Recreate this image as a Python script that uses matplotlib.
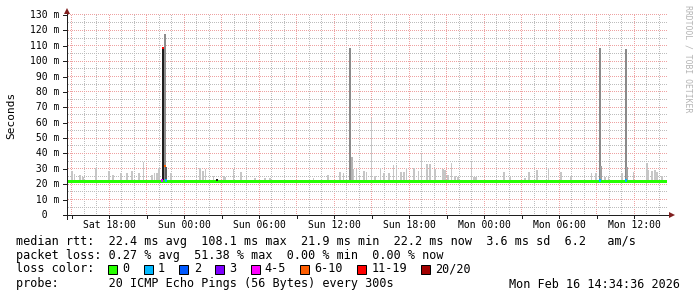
import numpy as np
import matplotlib
matplotlib.use('Agg')
import matplotlib.pyplot as plt
from matplotlib.lines import Line2D
from matplotlib.patches import Rectangle, Polygon
from matplotlib.transforms import blended_transform_factory
from matplotlib.colors import to_rgba

W, H = 697, 297
MONO = 'DejaVu Sans Mono'

# time axis in hours counted from Sat 00:00 (48h window)
view_start = 14.64
view_end = 62.64
data_end = 62.60

tick_hours = [18, 24, 30, 36, 42, 48, 54, 60]
tick_labels = ['Sat 18:00', 'Sun 00:00', 'Sun 06:00', 'Sun 12:00',
               'Sun 18:00', 'Mon 00:00', 'Mon 06:00', 'Mon 12:00']

y_ticks = [0, 10, 20, 30, 40, 50, 60, 70, 80, 90, 100, 110, 120, 130]

# median rtt (ms), mostly flat, with short dips
median_ms = 22.4
dip_hours = [16.24, 16.56, 17.84, 20.96, 24.00, 25.04, 25.84, 26.64, 27.04, 27.36,
             27.60, 28.24, 32.32, 33.12, 33.60, 36.24, 39.76, 42.72, 45.20, 49.28,
             51.12, 51.76, 52.24, 55.60, 57.44, 58.08, 60.00]
dip_ms = [21.6, 21.6, 21.6, 21.4, 21.6, 21.6, 21.4, 21.4, 21.4, 21.4,
          21.6, 21.4, 21.6, 21.6, 21.6, 21.6, 21.6, 21.6, 21.6, 21.6,
          21.6, 21.4, 21.6, 21.6, 21.6, 21.4, 21.6]

# light smoke (spread of the 20 pings), top of each bar in ms
smoke_hours = [14.68, 15.04, 15.24, 15.68, 15.92, 16.96, 18.00, 18.32, 18.94, 19.42,
               19.82, 20.40, 20.74, 21.44, 21.62, 21.82, 22.00, 22.94, 25.28, 25.50,
               25.70, 26.34, 27.14, 27.28, 27.94, 28.56, 29.02, 29.68, 30.48, 30.88,
               34.34, 35.54, 36.48, 36.74, 37.28, 37.54, 37.82, 38.02, 38.40, 38.62,
               39.02, 39.28, 39.72, 40.00, 40.40, 40.74, 41.02, 41.36, 41.62, 41.82,
               42.40, 42.74, 43.02, 43.44, 43.68, 44.08, 44.72, 44.88, 45.12, 45.42,
               45.68, 45.92, 47.02, 47.20, 47.36, 49.60, 50.08, 51.28, 51.62, 52.22,
               53.14, 54.14, 54.96, 56.62, 56.96, 57.68, 57.94, 59.02, 59.94, 61.02,
               61.14, 61.42, 61.68, 61.82, 62.22]
smoke_top = [26.0, 28.6, 26.6, 25.8, 24.5, 30.3, 28.8, 26.0, 27.0, 27.5,
             28.8, 27.0, 34.6, 26.0, 27.0, 27.5, 30.3, 27.5, 30.8, 28.8,
             30.0, 25.5, 25.3, 24.5, 29.7, 28.0, 24.0, 23.8, 24.0, 24.0,
             24.0, 26.0, 28.2, 27.5, 33.0, 29.7, 29.7, 26.0, 28.6, 28.0,
             63.0, 25.5, 30.3, 27.0, 27.5, 32.5, 31.8, 28.0, 28.0, 30.3,
             30.3, 28.8, 40.0, 33.0, 33.0, 30.0, 30.0, 29.0, 26.0, 33.8,
             25.5, 24.5, 34.7, 25.0, 25.0, 28.0, 25.0, 24.0, 28.2, 29.0,
             30.3, 28.0, 25.5, 27.5, 27.0, 24.5, 25.5, 27.5, 28.0, 33.6,
             29.0, 28.5, 29.0, 28.0, 25.5]

# darker smoke around the loss events
spike_hours = [22.46, 22.32, 22.56, 37.30, 37.44, 57.26, 57.38, 59.34, 59.46]
spike_top = [117.7, 108.6, 31.5, 108.4, 38.0, 108.4, 32.0, 107.7, 31.0]
spike_color = ['#8c8c8c', '#1e1e1e', '#5a5a5a', '#8a8a8a', '#b4b4b4',
               '#8a8a8a', '#a0a0a0', '#8a8a8a', '#a0a0a0']

# median points drawn in a loss colour
loss_hours = [22.22, 22.32, 22.50, 22.58, 26.64, 57.30, 59.38]
loss_ms = [22.4, 108.6, 32.0, 22.4, 22.8, 22.4, 22.4]
loss_pt_color = ['#dd00ff', '#ff0000', '#ff5e00', '#00b8ff', '#1e1e1e', '#00b8ff', '#00b8ff']

loss_labels = ['0', '1', '2', '3', '4-5', '6-10', '11-19', '20/20']
loss_colors = ['#26ff00', '#00b8ff', '#0059ff', '#7e00ff', '#ff00ff', '#ff5e00', '#ff0000', '#a10000']

legend_rows = [
    'median rtt:  22.4 ms avg  108.1 ms max  21.9 ms min  22.2 ms now  3.6 ms sd  6.2   am/s',
    'packet loss: 0.27 % avg  51.38 % max  0.00 % min  0.00 % now',
    'loss color:',
    'probe:       20 ICMP Echo Pings (56 Bytes) every 300s',
]
stamp = 'Mon Feb 16 14:34:36 2026'

GRID = '#bdbdbd'
MGRID = '#eea2a2'
ARROW = '#801f1f'
AXIS = '#1f1f1f'


def fx(x):
    return x / W


def fy(y):
    return 1 - y / H


fig = plt.figure(figsize=(W / 100, H / 100), dpi=100)
fig.patch.set_facecolor('white')
ax = fig.add_axes([fx(67), fy(215), 600 / W, 200 / H])
ax.set_xlim(view_start, view_end)
ax.set_ylim(0, 130)
ax.axis('off')
ax.set_zorder(1)
px = 0.72

# rrdtool style dotted grid (1px on, 1px off), painted as a pixel image
grid_img = np.zeros((H, W, 4))
top_row, bot_row = 15, 214
left_col, right_col = 68, 666
for h in range(15, 63):
    c = int(ax.transData.transform((h, 0))[0])
    rgba = to_rgba(MGRID if h % 3 == 0 else GRID)
    grid_img[top_row:bot_row + 1:2, c] = rgba
for v in range(5, 131, 5):
    r = H - 1 - int(ax.transData.transform((view_start, v))[1])
    rgba = to_rgba(MGRID if v % 10 == 0 else GRID)
    grid_img[r, left_col:right_col + 1:2] = rgba
fig.figimage(grid_img, 0, 0, origin='upper', zorder=0)

# smoke
ax.bar(smoke_hours, [t - 21.5 for t in smoke_top], bottom=21.5, width=0.12,
       color='#c6c6c6', linewidth=0, antialiased=False, zorder=2)
ax.bar(spike_hours, [t - 21.5 for t in spike_top], bottom=21.5, width=0.14,
       color=spike_color, linewidth=0, antialiased=False, zorder=3)

# median line
ax.plot([view_start, data_end], [median_ms, median_ms], color=loss_colors[0],
        lw=3 * px, solid_capstyle='butt', zorder=4)
ax.vlines(dip_hours, dip_ms, median_ms, color=loss_colors[0], lw=1.4 * px, zorder=4)
ax.scatter(loss_hours, loss_ms, s=3, marker='s', c=loss_pt_color, linewidths=0, zorder=5)

# axes lines and arrows
fig.add_artist(Line2D([fx(63), fx(669)], [fy(215), fy(215)], color=AXIS, lw=px, zorder=2))
fig.add_artist(Line2D([fx(67), fx(67)], [fy(219), fy(13)], color=AXIS, lw=px, zorder=2))
fig.add_artist(Polygon([(fx(64), fy(14)), (fx(70), fy(14)), (fx(67), fy(8))],
                       closed=True, color=ARROW, lw=0, zorder=2))
fig.add_artist(Polygon([(fx(669), fy(212)), (fx(669), fy(218)), (fx(675), fy(215))],
                       closed=True, color=ARROW, lw=0, zorder=2))

# ticks on axes
xt = blended_transform_factory(ax.transData, fig.transFigure)
for h in range(15, 63, 3):
    ax.plot([h, h], [fy(215), fy(218)], transform=xt, color=AXIS, lw=px, clip_on=False)
yt = blended_transform_factory(fig.transFigure, ax.transData)
for v in y_ticks[1:]:
    ax.plot([fx(63), fx(67)], [v, v], transform=yt, color=AXIS, lw=px, clip_on=False)

# tick labels
for h, lab in zip(tick_hours, tick_labels):
    ax.text(h, fy(225), lab, transform=xt, ha='center', va='center',
            family=MONO, fontsize=7)
for v in y_ticks:
    lab = f'{v:3d} m' if v else f'{v:3d}'
    ax.text(fx(30), v, lab, transform=yt, ha='left', va='center',
            family=MONO, fontsize=7)

fig.text(fx(11), fy(115), 'Seconds', rotation=90, ha='center', va='center',
         family=MONO, fontsize=8)
fig.text(fx(688), fy(5), 'RRDTOOL / TOBI OETIKER', rotation=270, ha='center', va='top',
         family=MONO, fontsize=5.9, color='#b4b4b4')

# legend
fs = 8.5
cw = 0.602 * fs * 100 / 72
row_y = [241, 255, 269, 284]
for y, s in zip(row_y, legend_rows):
    fig.text(fx(16), fy(y), s, ha='left', va='center', family=MONO, fontsize=fs)
fig.text(fx(680), fy(row_y[3]), stamp, ha='right', va='center', family=MONO, fontsize=fs)

col = 13
for lab, c in zip(loss_labels, loss_colors):
    x0 = 16 + col * cw
    fig.add_artist(Rectangle((fx(x0), fy(row_y[2] + 4.5)), 9 / W, 9 / H,
                             facecolor=c, edgecolor='black', lw=px))
    fig.text(fx(16 + (col + 2) * cw), fy(row_y[2]), lab, ha='left', va='center',
             family=MONO, fontsize=fs)
    col += len(lab) + 4

fig.savefig('out.png', dpi=100, facecolor='white')
